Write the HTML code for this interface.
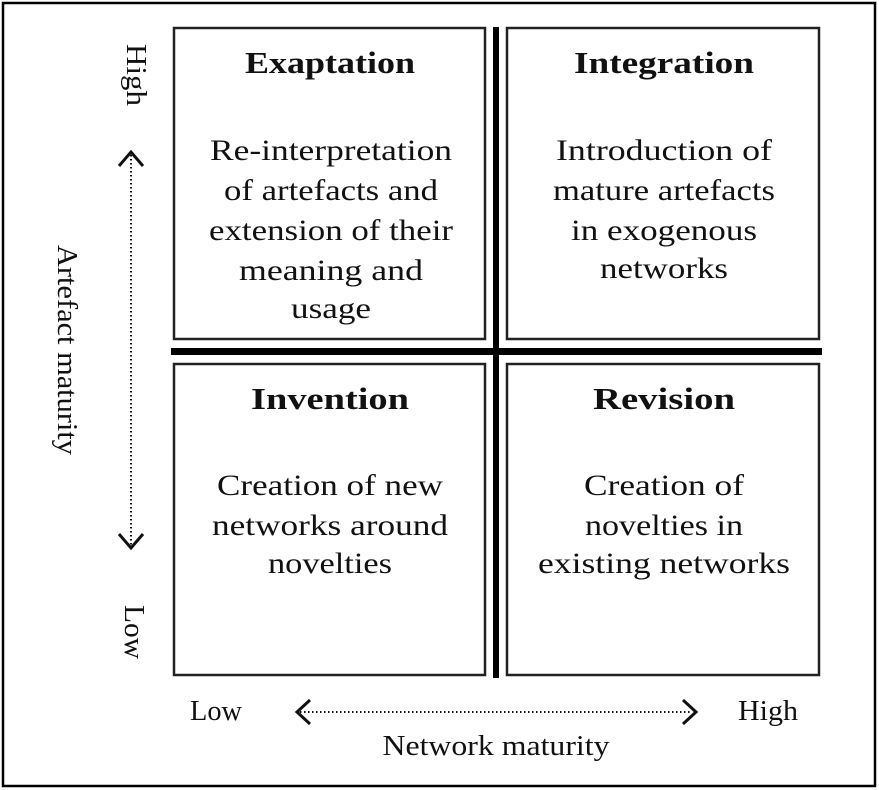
<!DOCTYPE html>
<html><head><style>
html,body{margin:0;padding:0;background:#fff;}
svg{display:block;}
text{font-family:"Liberation Serif",serif;fill:#111;}
</style></head><body>
<svg width="879" height="790" viewBox="0 0 879 790" xmlns="http://www.w3.org/2000/svg">
<rect x="3" y="3" width="872" height="783" fill="#fff" stroke="#000" stroke-width="2.5"/>
<g fill="none" stroke="#222" stroke-width="2.5">
<rect x="174" y="28" width="311" height="311"/>
<rect x="507" y="28" width="312" height="311"/>
<rect x="174" y="364" width="311" height="311"/>
<rect x="507" y="364" width="312" height="311"/>
</g>
<rect x="493" y="27" width="6" height="651" fill="#000"/>
<rect x="171" y="348" width="651" height="7" fill="#000"/>
<g text-anchor="middle" font-size="30" lengthAdjust="spacingAndGlyphs">
<text x="330" y="73" font-weight="bold" font-size="31" textLength="170" lengthAdjust="spacingAndGlyphs">Exaptation</text>
<text x="331" y="160" textLength="242" lengthAdjust="spacingAndGlyphs">Re-interpretation</text>
<text x="331" y="200" textLength="214" lengthAdjust="spacingAndGlyphs">of artefacts and</text>
<text x="331" y="240" textLength="244" lengthAdjust="spacingAndGlyphs">extension of their</text>
<text x="331" y="280" textLength="184" lengthAdjust="spacingAndGlyphs">meaning and</text>
<text x="331" y="318" textLength="80" lengthAdjust="spacingAndGlyphs">usage</text>
<text x="664" y="73" font-weight="bold" font-size="31" textLength="180" lengthAdjust="spacingAndGlyphs">Integration</text>
<text x="664" y="160" textLength="216" lengthAdjust="spacingAndGlyphs">Introduction of</text>
<text x="664" y="200" textLength="222" lengthAdjust="spacingAndGlyphs">mature artefacts</text>
<text x="664" y="240" textLength="186" lengthAdjust="spacingAndGlyphs">in exogenous</text>
<text x="664" y="278" textLength="128" lengthAdjust="spacingAndGlyphs">networks</text>
<text x="330" y="409" font-weight="bold" font-size="31" textLength="158" lengthAdjust="spacingAndGlyphs">Invention</text>
<text x="330" y="495" textLength="226" lengthAdjust="spacingAndGlyphs">Creation of new</text>
<text x="330" y="535" textLength="236" lengthAdjust="spacingAndGlyphs">networks around</text>
<text x="330" y="573" textLength="124" lengthAdjust="spacingAndGlyphs">novelties</text>
<text x="664" y="409" font-weight="bold" font-size="31" textLength="142" lengthAdjust="spacingAndGlyphs">Revision</text>
<text x="664" y="495" textLength="160" lengthAdjust="spacingAndGlyphs">Creation of</text>
<text x="664" y="535" textLength="158" lengthAdjust="spacingAndGlyphs">novelties in</text>
<text x="664" y="573" textLength="252" lengthAdjust="spacingAndGlyphs">existing networks</text>
</g>
<g font-size="28">
<text transform="translate(127,75) rotate(90)" text-anchor="middle" textLength="62" lengthAdjust="spacingAndGlyphs">High</text>
<text transform="translate(58,350) rotate(90)" text-anchor="middle" textLength="210" lengthAdjust="spacingAndGlyphs">Artefact maturity</text>
<text transform="translate(125,632) rotate(90)" text-anchor="middle" textLength="54" lengthAdjust="spacingAndGlyphs">Low</text>
<text x="216" y="720" text-anchor="middle" textLength="52" lengthAdjust="spacingAndGlyphs">Low</text>
<text x="768" y="720" text-anchor="middle" textLength="60" lengthAdjust="spacingAndGlyphs">High</text>
<text x="496" y="755" text-anchor="middle" textLength="227" lengthAdjust="spacingAndGlyphs">Network maturity</text>
</g>
<g stroke="#111" fill="none">
<line x1="131" y1="155" x2="131" y2="545" stroke-width="2" stroke-dasharray="1.5 2.5"/>
<polyline points="119,166 131,152 143,166" stroke-width="3"/>
<polyline points="119,534 131,548 143,534" stroke-width="3"/>
<line x1="300" y1="712" x2="692" y2="712" stroke-width="2" stroke-dasharray="1.5 2.5"/>
<polyline points="310,700 297,712 310,724" stroke-width="3"/>
<polyline points="683,700 696,712 683,724" stroke-width="3"/>
</g>
</svg>
</body></html>
